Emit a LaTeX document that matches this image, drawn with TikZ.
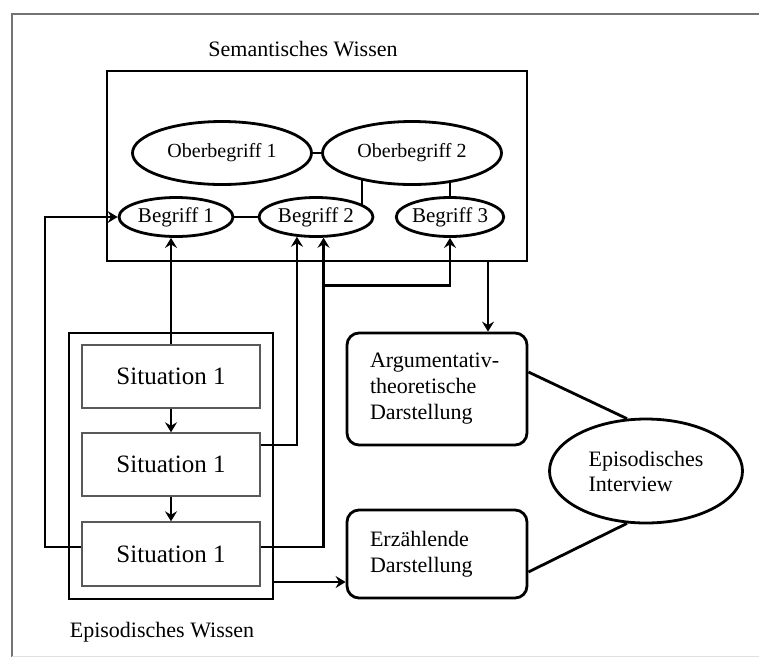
\documentclass[tikz,border=0pt]{standalone}
\usepackage{fontspec}
\setmainfont{Liberation Serif}
\usetikzlibrary{shapes.geometric,arrows.meta,backgrounds}
\begin{document}
\begin{tikzpicture}[x=1pt,y=-1pt,
  heavy/.style={line width=2.8pt},
  oval/.style={ellipse,draw,heavy,fill=white,inner sep=0pt},
  termnode/.style={oval,minimum width=114pt,minimum height=39pt,font=\fontsize{21}{24}\selectfont},
  topterm/.style={oval,minimum width=179pt,minimum height=63pt,font=\fontsize{20}{24}\selectfont},
  situation/.style={draw=black!65,line width=1.4pt,minimum width=178pt,minimum height=63pt,font=\fontsize{25}{30}\selectfont},
  panel/.style={draw,heavy,rounded corners=12pt,minimum width=180pt,align=left,text width=134pt,inner xsep=23pt,font=\fontsize{22}{26}\selectfont},
  heading/.style={font=\fontsize{22}{26}\selectfont},
  arr/.style={heavy,-{Stealth[length=10pt,width=12pt,inset=3.5pt]}},
  link/.style={heavy}]
\useasboundingbox (0,0) rectangle (759,657);

% outer frame
\draw[black!55,line width=1.5pt] (759,14) -- (12,14) -- (12,657);
\draw[black!12,line width=1pt] (12,656) -- (759,656);

% semantic knowledge
\node[draw,heavy,minimum width=420pt,minimum height=190pt] (sem) at (317,166) {};
\node[heading] (semt) at (303,49) {Semantisches Wissen};
\node[topterm] (ob1) at (222,153) {Oberbegriff 1};
\node[topterm] (ob2) at (412,153) {Oberbegriff 2};
\node[termnode] (b1) at (176,217) {Begriff 1};
\node[termnode] (b2) at (316,217) {Begriff 2};
\node[termnode,minimum width=106pt] (b3) at (450,217) {Begriff 3};

\draw[link] (ob1) -- (ob2);
\draw[link] (b1) -- (b2);
\begin{scope}[on background layer]
  \draw[link] ([xshift=-50pt]ob2.center) -- ([xshift=-50pt]ob2.center |- b2.center);
  \draw[link] (b3.center) -- (b3.center |- ob2.center);
\end{scope}

% episodic knowledge
\node[draw,heavy,minimum width=204pt,minimum height=266pt] (epi) at (171,466) {};
\node[situation] (s1) at (171,376.5) {Situation 1};
\node[situation] (s2) at (171,464.5) {Situation 1};
\node[situation,minimum height=64pt] (s3) at (171,554) {Situation 1};
\node[heading] (epit) at (162,632) {Episodisches Wissen};

\draw[arr] (s1) -- (s2);
\draw[arr] (s2) -- (s3);

% forms of presentation
\node[panel,minimum height=112pt] (arg) at (437,389) {Argumentativ-\\theoretische\\Darstellung};
\node[panel,minimum height=88pt] (erz) at (437,554) {Erzählende\\Darstellung};
\node[oval,minimum width=193pt,minimum height=104pt,align=left,font=\fontsize{22}{25}\selectfont] (iv) at (646,471) {Episodisches\\Interview};

% links between situations and concepts
\coordinate (lx) at (45,400);
\draw[arr] ([yshift=7pt]s3.west) -| (lx) |- (b1.west);
\draw[arr] (s1.north) -- (s1.north |- b1.south);
\draw[arr] ([yshift=19.5pt]s2.east) -| (b2.226);
\draw[arr] ([yshift=7pt]s3.east) -| (b2.290);
\path (b2.290) ++(0,48) coordinate (jn);
\draw[arr] (jn) -| (b3.south);

\draw[arr] ([xshift=51pt]arg.north |- sem.south) -- ([xshift=51pt]arg.north);
\draw[arr] ([yshift=-28pt]erz.west -| epi.east) -- ([yshift=-28pt]erz.west);
\draw[link] ([yshift=17pt]arg.east) -- (iv.110);
\draw[link] ([yshift=-18pt]erz.east) -- (iv.250);
\end{tikzpicture}
\end{document}
